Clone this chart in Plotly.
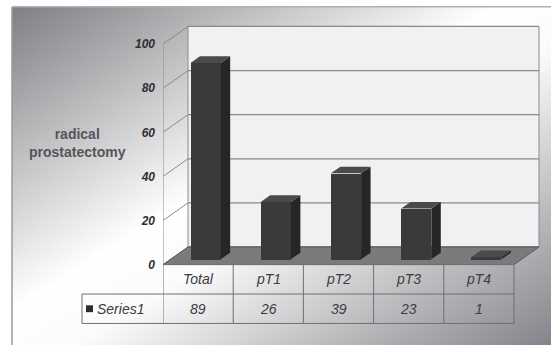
import base64
import plotly.graph_objects as go

# ---------------- data ----------------
categories = ["Total", "pT1", "pT2", "pT3", "pT4"]
values = [89, 26, 39, 23, 1]
series_name = "Series1"
y_ticks = [0, 20, 40, 60, 80, 100]
y_title = "radical<br>prostatectomy"

# ---------------- geometry (pixels) ----------------
W, H = 551, 352
X0PX = 163.0      # pixel of x = -0.5 (front left edge)
PXU = 70.2        # px per category
Y0PX = 270.0      # pixel of y = 0 on the front plane
PYU = 2.25        # px per value unit
DEPTH_X, DEPTH_Y = 25.0, 18.0
dx = DEPTH_X / PXU
dy = DEPTH_Y / PYU
T0, T1 = 0.30, 0.68   # bar depth span (fraction of depth)
HALF_W = 0.215        # half bar width (category units)

n = len(categories)
right_px = X0PX + (n + dx) * PXU + 3
top_px = 18.0
x_range = [-0.5, -0.5 + (right_px - X0PX) / PXU]
y_range = [0, (Y0PX - top_px) / PYU]

def px(v):
    return v / W

def py(v):
    return 1 - v / H

# ---------------- background gradient ----------------
svg = f'''<svg xmlns="http://www.w3.org/2000/svg" width="539" height="345" viewBox="0 0 539 345" preserveAspectRatio="none">
<defs><linearGradient id="g" x1="0" y1="0" x2="1" y2="1">
<stop offset="0" stop-color="#7f7f84"/>
<stop offset="0.45" stop-color="#ffffff"/>
<stop offset="0.56" stop-color="#fbfbfb"/>
<stop offset="1" stop-color="#84848a"/>
</linearGradient></defs>
<rect x="0" y="0" width="539" height="345" fill="url(#g)"/>
</svg>'''
svg_uri = "data:image/svg+xml;base64," + base64.b64encode(svg.encode()).decode()

fig = go.Figure()

# front faces of bars
fig.add_trace(go.Bar(
    x=[i + T0 * dx for i in range(n)],
    y=values,
    base=[T0 * dy] * n,
    width=2 * HALF_W,
    marker=dict(color="#3a3a3c", line=dict(width=0)),
    hoverinfo="skip",
    showlegend=False,
))

shapes = []
GRID = "#8a8a8c"

# back wall
shapes.append(dict(type="rect", xref="x", yref="y", layer="below",
                   x0=-0.5 + dx, x1=n - 0.5 + dx, y0=dy, y1=100 + dy,
                   fillcolor="#f1f1f3", line=dict(color=GRID, width=1)))
# left wall front edge
shapes.append(dict(type="line", xref="x", yref="y", layer="below",
                   x0=-0.5, x1=-0.5, y0=0, y1=100, line=dict(color=GRID, width=1)))
for t in y_ticks:
    shapes.append(dict(type="line", xref="x", yref="y", layer="below",
                       x0=-0.5 + dx, x1=n - 0.5 + dx, y0=t + dy, y1=t + dy,
                       line=dict(color=GRID, width=1.3)))
    shapes.append(dict(type="line", xref="x", yref="y", layer="below",
                       x0=-0.5, x1=-0.5 + dx, y0=t, y1=t + dy,
                       line=dict(color=GRID, width=1)))

# floor
fx0, fx1 = -0.5, n - 0.5
shapes.append(dict(type="path", xref="x", yref="y", layer="below",
                   path=f"M{fx0},0 L{fx1},0 L{fx1 + dx},{dy} L{fx0 + dx},{dy} Z",
                   fillcolor="#7b7b7d", line=dict(color="#5a5a5c", width=1)))

# bar side & top faces
ddx = (T1 - T0) * dx
ddy = (T1 - T0) * dy
for i, v in enumerate(values):
    xl = i - HALF_W + T0 * dx
    xr = i + HALF_W + T0 * dx
    b = T0 * dy
    top = v + b
    shapes.append(dict(type="path", xref="x", yref="y", layer="above",
                       path=f"M{xr},{b} L{xr + ddx},{b + ddy} L{xr + ddx},{top + ddy} L{xr},{top} Z",
                       fillcolor="#262628", line=dict(width=0)))
    shapes.append(dict(type="path", xref="x", yref="y", layer="above",
                       path=f"M{xl},{top} L{xr},{top} L{xr + ddx},{top + ddy} L{xl + ddx},{top + ddy} Z",
                       fillcolor="#4a4a4c", line=dict(width=0)))

# data table
TL = "#707072"
R1, R2, R3 = 270, 300, 330
LEG_X = 82
tab_right = X0PX + n * PXU
shapes.append(dict(type="line", xref="paper", yref="paper",
                   x0=px(X0PX), x1=px(tab_right), y0=py(R1), y1=py(R1), line=dict(color=TL, width=1)))
for yy in (R2, R3):
    shapes.append(dict(type="line", xref="paper", yref="paper",
                       x0=px(LEG_X), x1=px(tab_right), y0=py(yy), y1=py(yy), line=dict(color=TL, width=1)))
shapes.append(dict(type="line", xref="paper", yref="paper",
                   x0=px(LEG_X), x1=px(LEG_X), y0=py(R2), y1=py(R3), line=dict(color=TL, width=1)))
for k in range(n + 1):
    shapes.append(dict(type="line", xref="x", yref="paper",
                       x0=k - 0.5, x1=k - 0.5, y0=py(R1), y1=py(R3), line=dict(color=TL, width=1)))
# legend key
shapes.append(dict(type="rect", xref="paper", yref="paper",
                   x0=px(86), x1=px(93), y0=py(311.5), y1=py(318.5),
                   fillcolor="#2e2e30", line=dict(width=0)))

# frame border
shapes.append(dict(type="line", xref="paper", yref="paper", layer="below",
                   x0=px(12), x1=px(12), y0=py(7), y1=0, line=dict(color="#9a9a9c", width=1.5)))
shapes.append(dict(type="line", xref="paper", yref="paper", layer="below",
                   x0=px(12), x1=1, y0=py(7), y1=py(7), line=dict(color="#b0b0b2", width=1.5)))

annotations = []
TXT = "#3c3c3e"
FONT = "Liberation Sans, Arial, sans-serif"
for i, c in enumerate(categories):
    annotations.append(dict(xref="x", yref="paper", x=i, y=py((R1 + R2) / 2),
                            xanchor="center", yanchor="middle",
                            text=f"<i>{c}</i>", showarrow=False,
                            font=dict(family=FONT, size=14, color=TXT)))
    annotations.append(dict(xref="x", yref="paper", x=i, y=py((R2 + R3) / 2),
                            xanchor="center", yanchor="middle",
                            text=f"<i>{values[i]}</i>", showarrow=False,
                            font=dict(family=FONT, size=14, color=TXT)))
annotations.append(dict(xref="paper", yref="paper", x=px(95), y=py((R2 + R3) / 2),
                        xanchor="left", yanchor="middle",
                        text=f"<i>{series_name}</i>", showarrow=False,
                        font=dict(family=FONT, size=14, color=TXT)))
annotations.append(dict(xref="paper", yref="paper", x=px(77), y=py(146),
                        xanchor="center", yanchor="middle",
                        text=f"<b>{y_title}</b>", showarrow=False,
                        font=dict(family=FONT, size=14, color="#555557")))

fig.update_layout(
    width=W, height=H,
    margin=dict(l=0, r=0, t=0, b=0),
    paper_bgcolor="white",
    plot_bgcolor="rgba(0,0,0,0)",
    shapes=shapes,
    annotations=annotations,
    images=[dict(source=svg_uri, xref="paper", yref="paper",
                 x=px(12), y=py(7), sizex=1 - px(12), sizey=py(7),
                 xanchor="left", yanchor="top", sizing="stretch", layer="below")],
    xaxis=dict(domain=[px(X0PX), px(right_px)], range=x_range,
               showgrid=False, zeroline=False, showticklabels=False,
               showline=False, ticks=""),
    yaxis=dict(domain=[py(Y0PX), py(top_px)], range=y_range,
               tickvals=y_ticks, ticktext=[f"<b><i>{t}</i></b>" for t in y_ticks],
               showgrid=False, zeroline=False, showline=False, ticks="",
               ticklabelstandoff=7,
               tickfont=dict(family=FONT, size=12, color="#2e2e30")),
    bargap=0,
    showlegend=False,
)

fig.write_html("out.html")
